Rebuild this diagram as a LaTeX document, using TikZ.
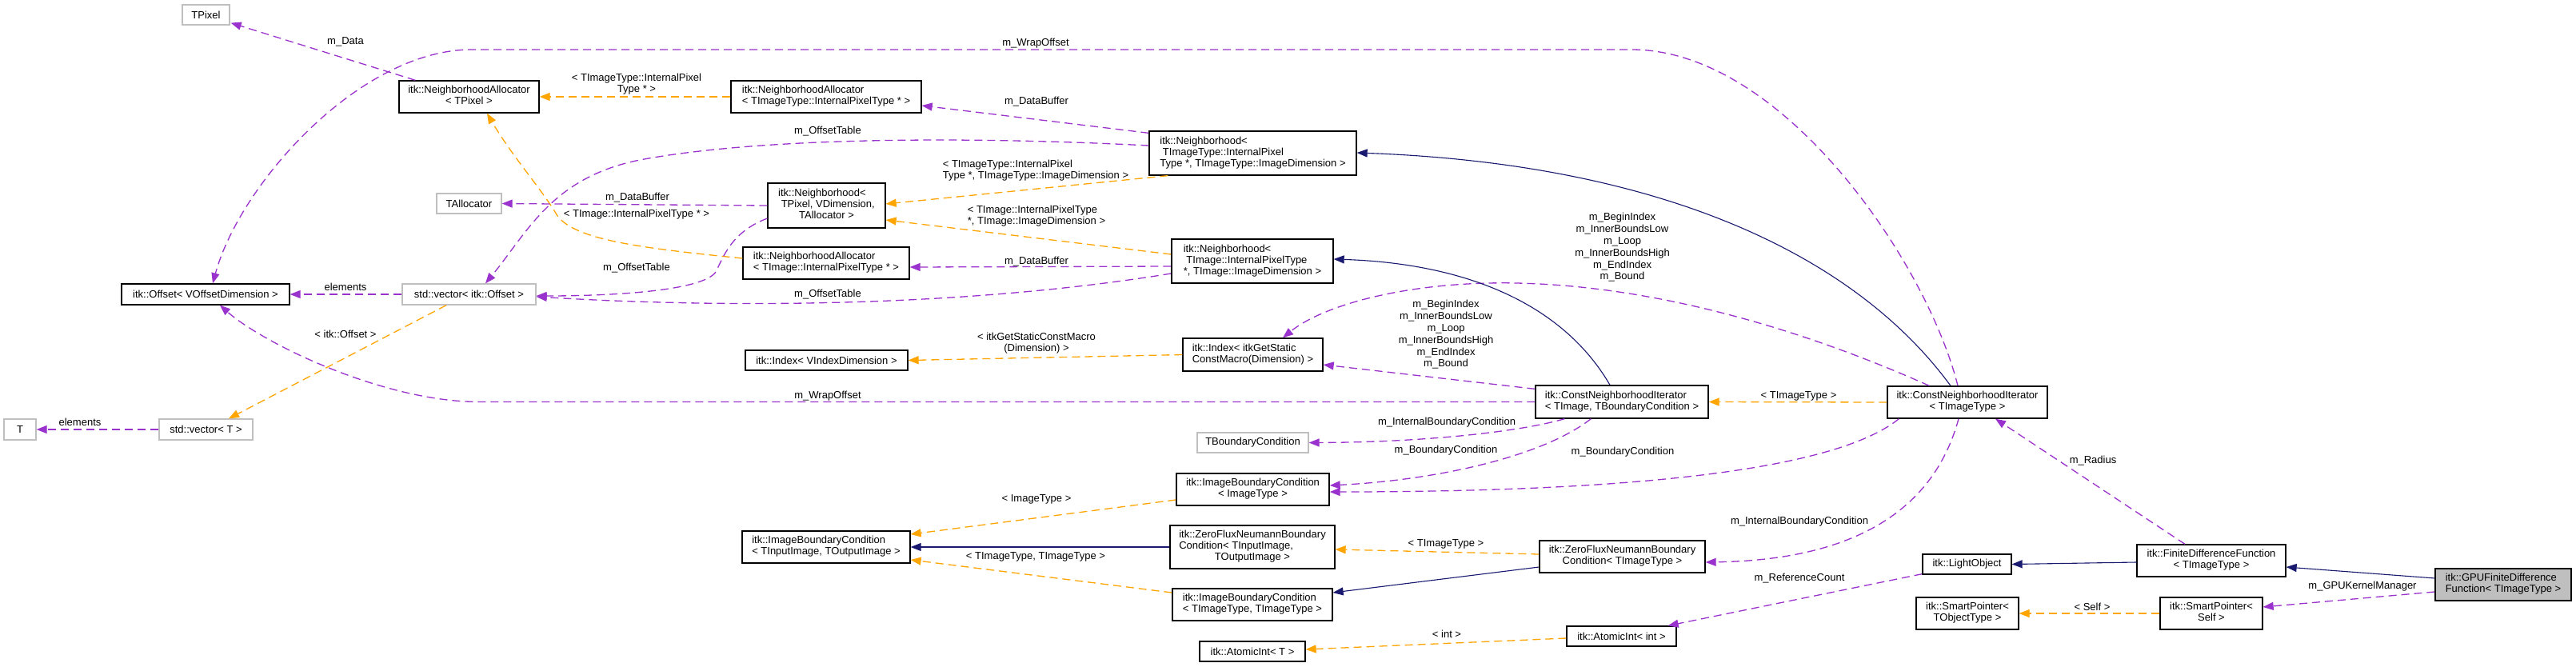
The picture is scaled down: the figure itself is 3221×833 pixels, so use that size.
\documentclass[tikz,border=0pt]{standalone}
\usepackage{fontspec}
\setmainfont{Liberation Sans}
\usetikzlibrary{arrows.meta}
\definecolor{usecol}{HTML}{9A32CD}
\definecolor{tmplcol}{HTML}{FFA500}
\definecolor{inhcol}{HTML}{191970}
\definecolor{extgray}{HTML}{BFBFBF}
\newcommand{\twol}[2]{\begin{tabular}{@{}l@{}}#1\\\multicolumn{1}{@{}c@{}}{#2}\end{tabular}}
\newcommand{\threel}[3]{\begin{tabular}{@{}l@{}}#1\\#2\\\multicolumn{1}{@{}c@{}}{#3}\end{tabular}}
\begin{document}
\begin{tikzpicture}[x=1pt,y=-1pt,
  every node/.style={font=\fontsize{13}{14}\selectfont},
  box/.style={draw=black, line width=1.3pt, fill=white, inner sep=1pt},
  ext/.style={draw=extgray, line width=1.3pt, fill=white, inner sep=1pt},
  lbl/.style={inner sep=0pt, align=center},
  tipstyle/.style={-{Triangle[length=13pt,width=10pt]}},
  usage/.style={draw=usecol, line width=1.3pt, dash pattern=on 10pt off 6pt, tipstyle},
  tmpl/.style={draw=tmplcol, line width=1.3pt, dash pattern=on 10pt off 6pt, tipstyle},
  inh/.style={draw=inhcol, line width=1.1pt, tipstyle},
]
\useasboundingbox[fill=white] (0,0) rectangle (3221,833);

% ---------- nodes ----------
\node[ext, minimum width=59pt, minimum height=25pt] (tpixel) at (257.5,18.5) {TPixel};
\node[box, minimum width=175pt, minimum height=40pt] (naPix) at (586.5,121) {\twol{itk::NeighborhoodAllocator}{< TPixel >}};
\node[ext, minimum width=81pt, minimum height=25pt] (tallocator) at (586.5,254.5) {TAllocator};
\node[box, minimum width=210pt, minimum height=26pt] (offset) at (257,368) {itk::Offset< VOffsetDimension >};
\node[ext, minimum width=167pt, minimum height=26pt] (vecOff) at (586.5,368) {std::vector< itk::Offset >};
\node[ext, minimum width=40pt, minimum height=26pt] (tnode) at (25,537) {T};
\node[ext, minimum width=117pt, minimum height=26pt] (vecT) at (257.5,537) {std::vector< T >};
\node[box, minimum width=238pt, minimum height=40pt] (naTIT) at (1033,121) {\twol{itk::NeighborhoodAllocator}{< TImageType::InternalPixelType * >}};
\node[box, minimum width=147pt, minimum height=56pt] (nbPix) at (1033.5,257) {\threel{itk::Neighborhood<}{\ TPixel, VDimension,}{TAllocator >}};
\node[box, minimum width=208pt, minimum height=40pt] (naTI) at (1033,329) {\twol{itk::NeighborhoodAllocator}{< TImage::InternalPixelType * >}};
\node[box, minimum width=203pt, minimum height=25pt] (indexV) at (1033.5,450.5) {itk::Index< VIndexDimension >};
\node[box, minimum width=210pt, minimum height=40pt] (ibcIO) at (1033,684) {\twol{itk::ImageBoundaryCondition}{< TInputImage, TOutputImage >}};
\node[box, minimum width=259pt, minimum height=55pt] (nbTIT) at (1566.5,191.5) {\threel{itk::Neighborhood<}{\ TImageType::InternalPixel}{Type *, TImageType::ImageDimension >}};
\node[box, minimum width=202pt, minimum height=55pt] (nbTI) at (1566,326.5) {\threel{itk::Neighborhood<}{\ TImage::InternalPixelType}{*, TImage::ImageDimension >}};
\node[box, minimum width=175pt, minimum height=41pt] (indexG) at (1566.5,443.5) {\twol{itk::Index< itkGetStatic}{ConstMacro(Dimension) >}};
\node[ext, minimum width=139pt, minimum height=25pt] (tbc) at (1566.5,553.5) {TBoundaryCondition};
\node[box, minimum width=191pt, minimum height=40pt] (ibcImg) at (1566.5,612) {\twol{itk::ImageBoundaryCondition}{< ImageType >}};
\node[box, minimum width=206pt, minimum height=54pt] (zfIO) at (1566,684) {\threel{itk::ZeroFluxNeumannBoundary}{Condition< TInputImage,}{TOutputImage >}};
\node[box, minimum width=200pt, minimum height=40pt] (ibcTT) at (1566,756) {\twol{itk::ImageBoundaryCondition}{< TImageType, TImageType >}};
\node[box, minimum width=132pt, minimum height=25pt] (atomT) at (1566,814.5) {itk::AtomicInt< T >};
\node[box, minimum width=216pt, minimum height=41pt] (cniTB) at (2028,502.5) {\twol{itk::ConstNeighborhoodIterator}{< TImage, TBoundaryCondition >}};
\node[box, minimum width=207pt, minimum height=40pt] (zfT) at (2028.5,696) {\twol{itk::ZeroFluxNeumannBoundary}{Condition< TImageType >}};
\node[box, minimum width=137pt, minimum height=25pt] (atomInt) at (2027.5,795.5) {itk::AtomicInt< int >};
\node[box, minimum width=200pt, minimum height=40pt] (cniT) at (2460,503) {\twol{itk::ConstNeighborhoodIterator}{< TImageType >}};
\node[box, minimum width=111pt, minimum height=25pt] (lightObj) at (2459.5,705.5) {itk::LightObject};
\node[box, minimum width=128pt, minimum height=40pt] (spT) at (2460,767) {\twol{itk::SmartPointer<}{TObjectType >}};
\node[box, minimum width=186pt, minimum height=40pt] (fdf) at (2765,701) {\twol{itk::FiniteDifferenceFunction}{< TImageType >}};
\node[box, minimum width=128pt, minimum height=40pt] (spSelf) at (2765,767) {\twol{itk::SmartPointer<}{Self >}};
\node[box, fill=extgray, minimum width=170pt, minimum height=40pt] (gpu) at (3130,731) {\twol{itk::GPUFiniteDifference}{Function< TImageType >}};

% ---------- edges ----------
\draw[usage] ([shift={(21,0)}]naPix.north west) -- ([shift={(1,-3)}]tpixel.south east);
\draw[tmpl] (naTIT.west) -- (naPix.east);
\draw[tmpl] ([shift={(0,-6)}]naTI.west) .. controls (800,310) and (720,300) .. (697,270) .. controls (680,240) and (640,195) .. ([shift={(22.5,0)}]naPix.south);
\draw[usage] (nbPix.west) -- (tallocator.east);
\draw[usage] ([shift={(0,16)}]nbPix.west) .. controls (915,290) and (905,320) .. (895,340) .. controls (880,362) and (780,370) .. ([shift={(0,2)}]vecOff.east);
\draw[usage] ([shift={(0,-9.5)}]nbTIT.west) .. controls (1200,170) and (950,172) .. (800,200) .. controls (690,222) and (660,290) .. ([shift={(20.5,0)}]vecOff.north);
\draw[usage] ([shift={(0,15.5)}]nbTI.west) .. controls (1200,385) and (900,385) .. ([shift={(0,3)}]vecOff.east);
\draw[usage] ([shift={(0,3)}]nbTIT.north west) -- ([shift={(0,11)}]naTIT.east);
\draw[usage] ([shift={(0,6.5)}]nbTI.west) -- ([shift={(0,5)}]naTI.east);
\draw[tmpl] ([shift={(24,0)}]nbTIT.south west) -- ([shift={(0,-2)}]nbPix.east);
\draw[tmpl] ([shift={(0,-8.5)}]nbTI.west) -- ([shift={(0,18)}]nbPix.east);
\draw[usage] (vecOff.west) -- (offset.east);
\draw[tmpl] ([shift={(-28.5,0)}]vecOff.south) -- ([shift={(28.5,0)}]vecT.north);
\draw[usage] (vecT.west) -- (tnode.east);
\draw[usage] ([shift={(-12,0)}]cniT.north) .. controls (2410,330) and (2230,62) .. (2040,62) -- (590,62) .. controls (450,62) and (300,230) .. ([shift={(9,0)}]offset.north);
\draw[usage] (cniTB.west) -- (600,502.5) .. controls (480,502.5) and (330,430) .. ([shift={(18,0)}]offset.south);
\draw[usage] ([shift={(0,5)}]cniTB.north west) -- ([shift={(0,12.5)}]indexG.east);
\draw[usage] ([shift={(53,0)}]cniT.north west) .. controls (2250,410) and (2050,350) .. (1860,354) .. controls (1740,357) and (1650,385) .. ([shift={(37.5,0)}]indexG.north);
\draw[tmpl] (indexG.west) -- (indexV.east);
\draw[inh] ([shift={(-15,0)}]cniTB.north) .. controls (1960,390) and (1850,330) .. ([shift={(0,-2.5)}]nbTI.east);
\draw[inh] ([shift={(-21,0)}]cniT.north) .. controls (2320,320) and (2080,205) .. ([shift={(0,-0.5)}]nbTIT.east);
\draw[tmpl] (cniT.west) -- (cniTB.east);
\draw[usage] ([shift={(37,0)}]cniTB.south west) .. controls (1900,540) and (1780,553) .. (tbc.east);
\draw[usage] ([shift={(70,0)}]cniTB.south west) .. controls (1930,570) and (1800,600) .. ([shift={(0,-5)}]ibcImg.east);
\draw[usage] ([shift={(15,0)}]cniT.south west) .. controls (2280,600) and (1950,615) .. ([shift={(0,3)}]ibcImg.east);
\draw[tmpl] ([shift={(0,13)}]ibcImg.west) -- ([shift={(0,-16)}]ibcIO.east);
\draw[inh] (zfIO.west) -- (ibcIO.east);
\draw[tmpl] ([shift={(0,-15)}]ibcTT.west) -- ([shift={(0,16)}]ibcIO.east);
\draw[tmpl] ([shift={(0,-3)}]zfT.west) -- ([shift={(0,3)}]zfIO.east);
\draw[inh] ([shift={(0,13)}]zfT.west) -- ([shift={(0,-15)}]ibcTT.east);
\draw[usage] ([shift={(-11,0)}]cniT.south) .. controls (2420,630) and (2330,700) .. ([shift={(0,7)}]zfT.east);
\draw[usage] ([shift={(0,-1)}]lightObj.south west) -- ([shift={(-11,0)}]atomInt.north east);
\draw[tmpl] ([shift={(0,2.5)}]atomInt.west) -- ([shift={(0,-2.5)}]atomT.east);
\draw[inh] ([shift={(0,2)}]fdf.west) -- (lightObj.east);
\draw[usage] ([shift={(-33,0)}]fdf.north) -- ([shift={(35,0)}]cniT.south);
\draw[inh] ([shift={(0,-8)}]gpu.west) -- ([shift={(0,8)}]fdf.east);
\draw[usage] ([shift={(0,9)}]gpu.west) -- ([shift={(0,-8)}]spSelf.east);
\draw[tmpl] (spSelf.west) -- (spT.east);

% ---------- edge labels ----------
\node[lbl] (l01) at (432,52) {m\_Data};
\node[lbl] (l02) at (796,106) {\twol{< TImageType::InternalPixel}{Type * >}};
\node[lbl] (l03) at (1295,54) {m\_WrapOffset};
\node[lbl] (l04) at (1296,127) {m\_DataBuffer};
\node[lbl] (l05) at (1035,164) {m\_OffsetTable};
\node[lbl] (l06) at (1295,213.5) {\twol{< TImageType::InternalPixel}{Type *, TImageType::ImageDimension >}};
\node[lbl] (l07) at (797,247) {m\_DataBuffer};
\node[lbl] (l08) at (796,268) {< TImage::InternalPixelType * >};
\node[lbl] (l09) at (1296,270.5) {\twol{< TImage::InternalPixelType}{*, TImage::ImageDimension >}};
\node[lbl] (l10) at (1296,327) {m\_DataBuffer};
\node[lbl] (l11) at (796,335) {m\_OffsetTable};
\node[lbl] (l12) at (1035,368) {m\_OffsetTable};
\node[lbl] (l13) at (432,359) {elements};
\node[lbl] (l14) at (432,418) {< itk::Offset >};
\node[lbl] (l15) at (100,528) {elements};
\node[lbl] (l16) at (1296,430) {\twol{< itkGetStaticConstMacro}{(Dimension) >}};
\node[lbl] (l17) at (1035,495) {m\_WrapOffset};
\node[lbl] (l18) at (1296,624) {< ImageType >};
\node[lbl] (l19) at (1295,696) {< TImageType, TImageType >};
\node[lbl, font=\fontsize{13}{14.8}\selectfont] (l20) at (2028.5,309.5) {m\_BeginIndex\\m\_InnerBoundsLow\\m\_Loop\\m\_InnerBoundsHigh\\m\_EndIndex\\m\_Bound};
\node[lbl, font=\fontsize{13}{14.8}\selectfont] (l21) at (1808,418.5) {m\_BeginIndex\\m\_InnerBoundsLow\\m\_Loop\\m\_InnerBoundsHigh\\m\_EndIndex\\m\_Bound};
\node[lbl] (l22) at (2249,495) {< TImageType >};
\node[lbl] (l23) at (1809,528) {m\_InternalBoundaryCondition};
\node[lbl] (l24) at (1808,563) {m\_BoundaryCondition};
\node[lbl] (l25) at (2029,565) {m\_BoundaryCondition};
\node[lbl] (l26) at (1808,680) {< TImageType >};
\node[lbl] (l27) at (2250,652) {m\_InternalBoundaryCondition};
\node[lbl] (l28) at (1809,793) {< int >};
\node[lbl] (l29) at (2250,723) {m\_ReferenceCount};
\node[lbl] (l30) at (2617,576) {m\_Radius};
\node[lbl] (l31) at (2954,733) {m\_GPUKernelManager};
\node[lbl] (l32) at (2616,759) {< Self >};
\end{tikzpicture}
\end{document}
